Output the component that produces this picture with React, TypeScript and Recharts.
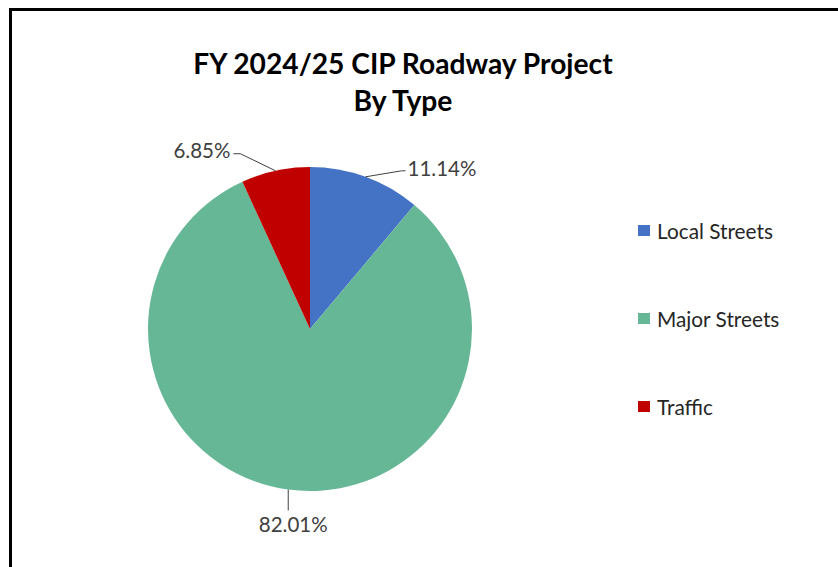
import { PieChart, Pie, Cell, Legend } from "recharts";

const categories = ["Local Streets", "Major Streets", "Traffic"];
const shares = [11.14, 82.01, 6.85];
const colors = ["#4472C4", "#66B796", "#C00000"];

const data = categories.map((name, i) => ({ name, value: shares[i], fill: colors[i] }));

// leader line shape per slice: elbow offset from the slice edge, then a short tail
const leaders = [
  { dx: 36, dy: -6, tail: 4, anchor: "start" },
  { dx: 0, dy: 21, tail: 0, anchor: "middle" },
  { dx: -35, dy: -17, tail: -7, anchor: "end" },
];

const FONT = "Lato, 'Open Sans', sans-serif";

const renderLabel = (props: any) => {
  const { cx, cy, midAngle, outerRadius, index, value } = props;
  const rad = (Math.PI / 180) * midAngle;
  const x0 = cx + outerRadius * Math.cos(rad);
  const y0 = cy - outerRadius * Math.sin(rad);
  const l = leaders[index];
  const x1 = x0 + l.dx;
  const y1 = y0 + l.dy;
  const x2 = x1 + l.tail;
  let tx = x2;
  let ty = y1;
  if (l.anchor === "start") { tx = x2 + 2; ty = y1 - 3; }
  if (l.anchor === "end") { tx = x2 - 3; ty = y1 - 4; }
  if (l.anchor === "middle") { tx = x1 + 5; ty = y1 + 13; }
  return (
    <g>
      <polyline points={`${x0},${y0} ${x1},${y1} ${x2},${y1}`} fill="none" stroke="#404040" strokeWidth={1} />
      <text x={tx} y={ty} textAnchor={l.anchor} dominantBaseline="central" fill="#404040" fontSize={20.5} fontFamily={FONT}>
        {`${Number(value).toFixed(2)}%`}
      </text>
    </g>
  );
};

const renderLegend = (props: any) => {
  const items = props.payload || [];
  return (
    <div style={{ fontFamily: FONT }}>
      {items.map((entry: any, i: number) => (
        <div key={i} style={{ display: "flex", alignItems: "center", height: 26, marginBottom: i < items.length - 1 ? 62 : 0 }}>
          <span style={{ width: 12, height: 11, background: colors[i], display: "inline-block", marginRight: 7 }} />
          <span style={{ fontSize: 20.8, color: "#262626" }}>{entry.value}</span>
        </div>
      ))}
    </div>
  );
};

export default function App() {
  return (
    <div style={{ position: "fixed", left: 0, top: 0, width: 838, height: 567, overflow: "hidden", background: "#fff" }}>
      <div style={{ position: "absolute", left: 9, top: 8, width: 840, height: 580, border: "3px solid #000", boxSizing: "border-box" }} />
      <div style={{ position: "absolute", left: 100, top: 45, width: 606, textAlign: "center", fontFamily: FONT, fontWeight: 700, fontSize: 28.2, lineHeight: "37px", color: "#000" }}>
        FY 2024/25 CIP Roadway Project
        <br />
        By Type
      </div>
      <div style={{ position: "absolute", left: 0, top: 0 }}>
        <PieChart width={838} height={567} margin={{ top: 0, right: 0, bottom: 0, left: 0 }}>
          <Pie
            data={data}
            dataKey="value"
            nameKey="name"
            cx={310}
            cy={329}
            outerRadius={162}
            startAngle={90}
            endAngle={-270}
            stroke="none"
            label={renderLabel}
            labelLine={false}
            isAnimationActive={false}
          >
            {data.map((entry, index) => (
              <Cell key={`cell-${index}`} fill={entry.fill} />
            ))}
          </Pie>
          <Legend
            layout="vertical"
            align="right"
            verticalAlign="top"
            content={renderLegend}
            wrapperStyle={{ left: 638, top: 217, width: 190, right: "auto" }}
          />
        </PieChart>
      </div>
    </div>
  );
}
